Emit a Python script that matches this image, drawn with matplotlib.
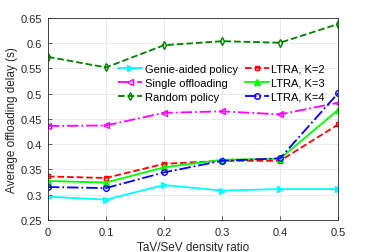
import matplotlib
matplotlib.use("Agg")
import matplotlib.pyplot as plt

plt.rcParams['font.family'] = ['Liberation Sans', 'DejaVu Sans']

x = [0, 0.1, 0.2, 0.3, 0.4, 0.5]
genie = [0.296, 0.290, 0.319, 0.308, 0.311, 0.311]
single = [0.436, 0.437, 0.462, 0.465, 0.459, 0.482]
random_p = [0.573, 0.552, 0.596, 0.604, 0.601, 0.638]
ltra2 = [0.336, 0.333, 0.361, 0.367, 0.367, 0.439]
ltra3 = [0.327, 0.324, 0.354, 0.369, 0.371, 0.468]
ltra4 = [0.315, 0.313, 0.344, 0.367, 0.372, 0.501]
xticks = [0, 0.1, 0.2, 0.3, 0.4, 0.5]
yticks = [0.25, 0.3, 0.35, 0.4, 0.45, 0.5, 0.55, 0.6, 0.65]

fig = plt.figure(figsize=(3.74, 2.53), dpi=100)
ax = fig.add_axes([0.128, 0.127, 0.776, 0.798])

lw = 1.3
ms = 4
h1, = ax.plot(x, genie, color='#00ffff', ls='-', marker='>', ms=ms, lw=lw, mfc='#00ffff', label='Genie-aided policy')
h2, = ax.plot(x, single, color='#ff00ff', ls='-.', marker='<', ms=ms, lw=lw, mfc='none', label='Single offloading')
h3, = ax.plot(x, random_p, color='#008000', ls='--', marker='d', ms=ms, lw=lw, mfc='none', label='Random policy')
h4, = ax.plot(x, ltra2, color='#ff0000', ls='--', marker='s', ms=ms-0.5, lw=lw, mfc='none', label='LTRA, K=2')
h5, = ax.plot(x, ltra3, color='#00ff00', ls='-', marker='^', ms=ms, lw=lw, mfc='#00ff00', label='LTRA, K=3')
h6, = ax.plot(x, ltra4, color='#0000ff', ls='-.', marker='o', ms=ms, lw=lw, mfc='none', label='LTRA, K=4')

ax.set_xlim(0, 0.5)
ax.set_ylim(0.25, 0.65)
ax.set_xticks(xticks)
ax.set_xticklabels([f'{t:g}' for t in xticks])
ax.set_yticks(yticks)
ax.set_yticklabels([f'{t:g}' for t in yticks])
ax.grid(True, color='#e6e6e6', lw=0.6)
ax.set_axisbelow(True)
for s in ax.spines.values():
    s.set_color('#262626')
    s.set_linewidth(0.6)
ax.tick_params(labelsize=8, colors='#262626', direction='in', length=3, width=0.5, pad=4)
ax.tick_params(axis='x', pad=5)
ax.set_xlabel('TaV/SeV density ratio', fontsize=8.5, color='#262626', labelpad=3)
ax.set_ylabel('Average offloading delay (s)', fontsize=8.5, color='#262626', labelpad=2)

ax.legend(handles=[h1, h2, h3, h4, h5, h6], ncol=2, frameon=False, fontsize=8,
          loc='upper left', bbox_to_anchor=(0.228, 0.795), handlelength=2.1,
          handletextpad=0.25, columnspacing=0.7, labelspacing=0.35, borderaxespad=0)

fig.savefig('out.png', dpi=100)
